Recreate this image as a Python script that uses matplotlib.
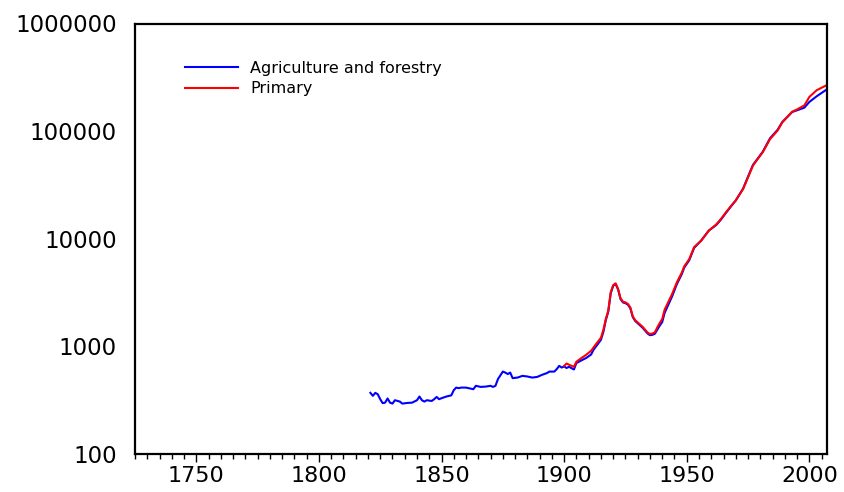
import numpy as np
import matplotlib.pyplot as plt
from matplotlib.ticker import FixedLocator, MultipleLocator, NullLocator

# Agriculture and forestry (blue)
agri_years = [1821, 1822, 1823, 1824, 1825, 1826, 1827, 1828, 1829, 1830,
              1831, 1833, 1834, 1836, 1838, 1840, 1841, 1842, 1843, 1844,
              1846, 1847, 1848, 1849, 1850, 1852, 1854, 1855, 1856, 1857,
              1858, 1860, 1861, 1863, 1864, 1866, 1868, 1870, 1871, 1872,
              1873, 1875, 1876, 1877, 1878, 1879, 1881, 1883, 1885, 1887,
              1889, 1891, 1893, 1894, 1896, 1897, 1898, 1899, 1900, 1901,
              1902, 1904, 1905, 1907, 1909, 1911, 1912, 1914, 1915, 1916,
              1917, 1918, 1919, 1920, 1921, 1922, 1923, 1924, 1925, 1926,
              1927, 1928, 1929, 1930, 1932, 1934, 1935, 1936, 1937, 1938,
              1939, 1940, 1941, 1942, 1944, 1946, 1948, 1949, 1951, 1953,
              1956, 1959, 1962, 1964, 1966, 1968, 1970, 1973, 1975, 1977,
              1979, 1981, 1984, 1987, 1989, 1991, 1993, 1995, 1998, 2000,
              2003, 2007]
agri_vals = [370, 347, 370, 359, 323, 297, 300, 328, 300, 294,
             316, 307, 294, 298, 300, 316, 342, 316, 307, 316,
             311, 323, 339, 323, 330, 342, 351, 392, 414, 409,
             414, 414, 409, 400, 430, 420, 423, 430, 420, 430,
             496, 583, 571, 553, 571, 507, 513, 532, 525, 513,
             520, 544, 565, 583, 583, 615, 659, 636, 650, 630,
             646, 610, 700, 740, 780, 840, 930, 1070, 1150, 1360,
             1750, 2100, 3100, 3650, 3800, 3380, 2750, 2560, 2520, 2440,
             2260, 1870, 1720, 1640, 1490, 1320, 1270, 1280, 1310, 1430,
             1560, 1680, 2050, 2300, 2900, 3800, 4700, 5400, 6300, 8200,
             9700, 11900, 13400, 15100, 17400, 19900, 22700, 29300, 37800, 48500,
             55800, 64300, 86000, 102500, 121600, 135300, 150500, 156200, 165400, 186600,
             210800, 243000]

# Primary (red)
prim_years = [1900, 1901, 1902, 1904, 1905, 1907, 1909, 1911, 1913, 1915,
              1916, 1917, 1918, 1919, 1920, 1921, 1922, 1923, 1924, 1925,
              1926, 1927, 1928, 1929, 1930, 1932, 1934, 1935, 1936, 1937,
              1938, 1939, 1940, 1941, 1942, 1944, 1946, 1948, 1949, 1951,
              1953, 1956, 1959, 1962, 1964, 1966, 1968, 1970, 1973, 1975,
              1977, 1979, 1981, 1984, 1987, 1989, 1991, 1993, 1995, 1998,
              2000, 2003, 2007]
prim_vals = [659, 693, 675, 646, 720, 778, 835, 910, 1050, 1200,
             1420, 1800, 2144, 3174, 3700, 3855, 3415, 2800, 2600, 2565,
             2480, 2300, 1900, 1750, 1668, 1521, 1346, 1300, 1317, 1350,
             1500, 1650, 1796, 2200, 2450, 3050, 3950, 4850, 5550, 6450,
             8350, 9650, 11900, 13550, 15300, 17600, 20100, 22700, 29000, 37200,
             47800, 55300, 63700, 84500, 101000, 121000, 135300, 151500, 159000, 173800,
             207800, 240000, 266600]

y_ticks = [100, 1000, 10000, 100000, 1000000]
y_labels = ['100', '1000', '10000', '100000', '1000000']
x_ticks = [1750, 1800, 1850, 1900, 1950, 2000]

plt.rcParams['font.family'] = ['DejaVu Sans']

fig = plt.figure(figsize=(8.44, 4.92), dpi=100)
ax = fig.add_axes([135 / 844, 1 - 454 / 492, (826.5 - 135) / 844, (454 - 23.5) / 492])

ax.plot(agri_years, agri_vals, color='#0000ff', linewidth=1.5, label='Agriculture and forestry')
ax.plot(prim_years, prim_vals, color='#ff0000', linewidth=1.5, label='Primary')

ax.set_yscale('log')
ax.set_ylim(100, 1000000)
ax.set_xlim(1725, 2007)

ax.yaxis.set_major_locator(FixedLocator(y_ticks))
ax.yaxis.set_minor_locator(NullLocator())
ax.set_yticklabels(y_labels)
ax.xaxis.set_major_locator(FixedLocator(x_ticks))
ax.xaxis.set_minor_locator(MultipleLocator(5))
ax.set_xticklabels([str(v) for v in x_ticks])

ax.tick_params(axis='y', which='both', length=0, pad=13, labelsize=16.5)
ax.tick_params(axis='x', which='major', direction='out', length=6, width=1, pad=3, labelsize=16)
ax.tick_params(axis='x', which='minor', direction='out', length=3.5, width=1)

for s in ax.spines.values():
    s.set_linewidth(1.6)

ax.legend(loc='upper left', bbox_to_anchor=(185 / 844, 1 - 61 / 492),
          bbox_transform=fig.transFigure, frameon=False, fontsize=11.5,
          handlelength=3.3, handletextpad=0.8, labelspacing=0.32,
          borderpad=0, borderaxespad=0)

fig.savefig('out.png', dpi=100)
